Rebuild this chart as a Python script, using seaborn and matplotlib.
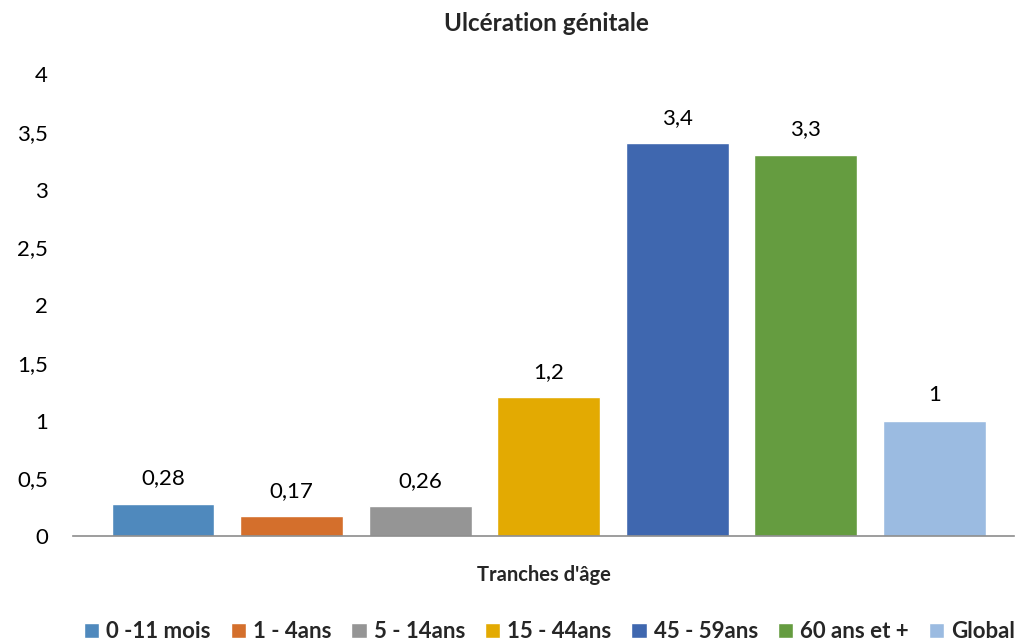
import numpy as np
import pandas as pd
import matplotlib
matplotlib.use("Agg")
import matplotlib.pyplot as plt
import seaborn as sns
from matplotlib.patches import Patch
from matplotlib.ticker import FuncFormatter

# data
categories = ["0 -11 mois", "1 - 4ans", "5 - 14ans", "15 - 44ans", "45 - 59ans", "60 ans et +", "Global"]
values = [0.28, 0.17, 0.26, 1.2, 3.4, 3.3, 1.0]
value_labels = ["0,28", "0,17", "0,26", "1,2", "3,4", "3,3", "1"]
colors = ["#4F89BD", "#D46F2C", "#959595", "#E3AA02", "#3F67AF", "#659C40", "#9BBBE1"]

sns.set_style("white")
plt.rcParams["font.family"] = ["Lato", "DejaVu Sans"]

df = pd.DataFrame({"tranche": categories, "valeur": values})

fig = plt.figure(figsize=(10.23, 6.43), dpi=100)
ax = fig.add_axes([0.0714, 0.1664, 0.92, 0.7185])

sns.barplot(data=df, x="tranche", y="valeur", hue="tranche", palette=colors,
            dodge=False, width=0.8, legend=False, ax=ax, saturation=1)

for i, (v, lab) in enumerate(zip(values, value_labels)):
    ax.annotate(lab, (i, v), xytext=(0, 11), textcoords="offset points",
                ha="center", va="bottom", fontsize=16, color="#000000")

ax.set_ylim(0, 4)
ax.set_xlim(-0.7, 6.62)
ax.set_yticks(np.arange(0, 4.01, 0.5))
ax.yaxis.set_major_formatter(FuncFormatter(lambda y, _: f"{y:g}".replace(".", ",")))
ax.tick_params(axis="y", length=0, pad=18, labelsize=16, labelcolor="#000000")
ax.set_xticks([])
ax.set_xlabel("Tranches d'âge", fontsize=14.5, fontweight="bold", labelpad=21)
ax.set_ylabel("")
for s in ["top", "right", "left"]:
    ax.spines[s].set_visible(False)
ax.spines["bottom"].set_color("#8C8C8C")
ax.spines["bottom"].set_linewidth(1.2)

fig.suptitle("Ulcération génitale", fontsize=17.5, fontweight="bold", y=0.982, x=0.534)

handles = [Patch(facecolor=c, label=l) for c, l in zip(colors, categories)]
fig.legend(handles=handles, loc="lower center", bbox_to_anchor=(0.537, -0.03), ncol=7,
           frameon=False, handlelength=0.7, handleheight=0.7, handletextpad=0.3,
           columnspacing=0.9, prop={"weight": "bold", "size": 16})

fig.savefig("out.png", dpi=100)
